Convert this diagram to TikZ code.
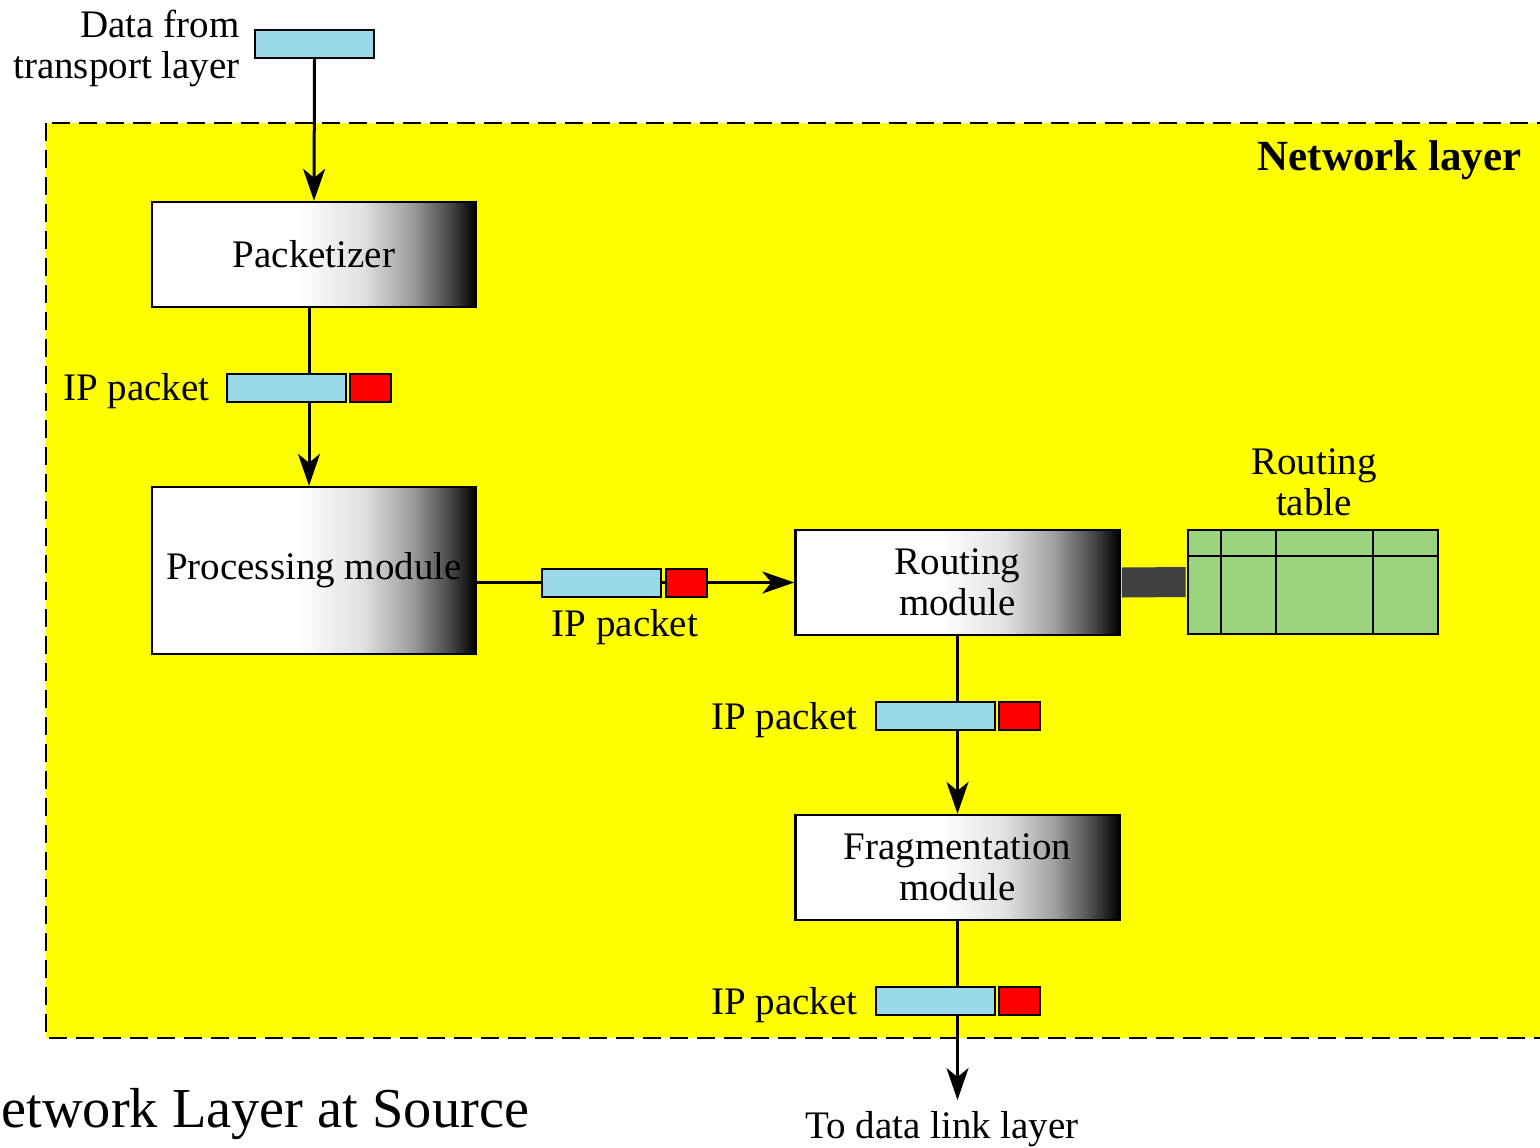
\documentclass[tikz,border=0pt]{standalone}
\usepackage{fontspec}
\setmainfont{Liberation Serif}
\usetikzlibrary{arrows.meta,calc}
\definecolor{pktblue}{HTML}{9AD9E9}
\definecolor{hdrred}{HTML}{FF0000}
\definecolor{tblgreen}{HTML}{9BD37E}
\definecolor{netyellow}{HTML}{FFFF00}
\definecolor{linkgray}{HTML}{404040}
% white on the left half, darkening to black at the right edge
\pgfdeclarehorizontalshading{modshade}{100bp}{color(0bp)=(white); color(25bp)=(white); color(47.5bp)=(white); color(57.5bp)=(white!88!black); color(65bp)=(white!62!black); color(71bp)=(white!28!black); color(75bp)=(black); color(100bp)=(black)}
\begin{document}
\begin{tikzpicture}[x=0.5pt,y=-0.5pt,
  lbl/.style={font=\fontsize{19.5}{20.5}\selectfont, inner sep=0pt, align=center},
  module/.style={draw, line width=1.2pt, shading=modshade, minimum width=162pt,
    minimum height=52.5pt, inner sep=0pt, align=center,
    font=\fontsize{19.5}{20.5}\selectfont},
  pkt/.style={draw, line width=1pt, fill=pktblue, minimum width=59.5pt,
    minimum height=14pt, inner sep=0pt},
  hdr/.style={draw, line width=1pt, fill=hdrred, minimum width=20.5pt,
    minimum height=14pt, inner sep=0pt},
  conn/.style={line width=1.5pt, -{Stealth[length=16pt,width=11pt,inset=4.5pt]}}]

\path[use as bounding box] (0,0) rectangle (1540,1147);
\clip (0,0) rectangle (1540,1147);

% network layer area
\draw[fill=netyellow, line width=1pt, dash pattern=on 9pt off 4.5pt] (46,123) rectangle (1600,1038);
\node[anchor=base east, inner sep=0pt, font=\fontsize{21.5}{22}\selectfont\bfseries] (nl) at (1522,170) {Network layer};

% modules
\node[module] (pkz) at (314,254.5) {Packetizer};
\node[module, minimum height=83.5pt] (proc) at (314,570.5) {\raisebox{-2.5pt}{Processing module}};
\node[module] (rmod) at (957.5,582.5) {Routing\\module};
\node[module] (frag) at (957.5,867.5) {Fragmentation\\module};

% routing table
\node[draw, line width=1.2pt, fill=tblgreen, minimum width=125pt, minimum height=52pt, inner sep=0pt] (rtab) at (1313,582) {};
\draw[line width=1.2pt] ($(rtab.north west)+(0,27)$) -- ($(rtab.north east)+(0,27)$);
\draw[line width=1.2pt] ($(rtab.north west)+(34,0)$) -- ($(rtab.south west)+(34,0)$);
\draw[line width=1.2pt] ($(rtab.north west)+(89,0)$) -- ($(rtab.south west)+(89,0)$);
\draw[line width=1.2pt] ($(rtab.north west)+(186,0)$) -- ($(rtab.south west)+(186,0)$);
\draw[linkgray, line width=15pt, shorten <=0.6pt, shorten >=0.6pt] (rmod.east) -- (rtab.west);
\node[lbl] (rtl) at (1314,482) {Routing\\table};

% data coming from the transport layer
\node[pkt] (tdata) at (314.5,44) {};
\node[lbl, anchor=east, align=right] (tlbl) at (240,48) {Data from\\transport layer};

% connectors
\coordinate (dl) at (957.5,1100);
\draw[conn] (tdata.south) -- (pkz.north);
\draw[conn] ([xshift=-2.5pt]pkz.south) -- ([xshift=-2.5pt]proc.north);
\draw[conn] (proc.east |- rmod.west) -- (rmod.west);
\draw[conn] (rmod.south) -- (frag.north);
\draw[conn] (frag.south) -- (dl);

% IP packets on the connectors
\node[pkt] (p1) at (286.5,388) {};
\node[hdr] (h1) at (370.5,388) {};
\node[pkt] (p2) at (601.5,582.5) {};
\node[hdr] (h2) at (686.5,582.5) {};
\node[pkt] (p3) at (935.5,716) {};
\node[hdr] (h3) at (1019.5,716) {};
\node[pkt] (p4) at (935.5,1001) {};
\node[hdr] (h4) at (1019.5,1001) {};

\node[lbl, anchor=base east] (ip1) at (210,400) {IP packet};
\node[lbl, anchor=base] (ip2) at (625,636) {IP packet};
\node[lbl, anchor=base east] (ip3) at (858,729) {IP packet};
\node[lbl, anchor=base east] (ip4) at (858,1014) {IP packet};
\node[lbl, anchor=base] (dll) at (942,1138) {To data link layer};

% caption
\node[anchor=base west, inner sep=0pt, font=\fontsize{28.2}{32}\selectfont] (cap) at (1,1127) {etwork Layer at Source};
\end{tikzpicture}
\end{document}
